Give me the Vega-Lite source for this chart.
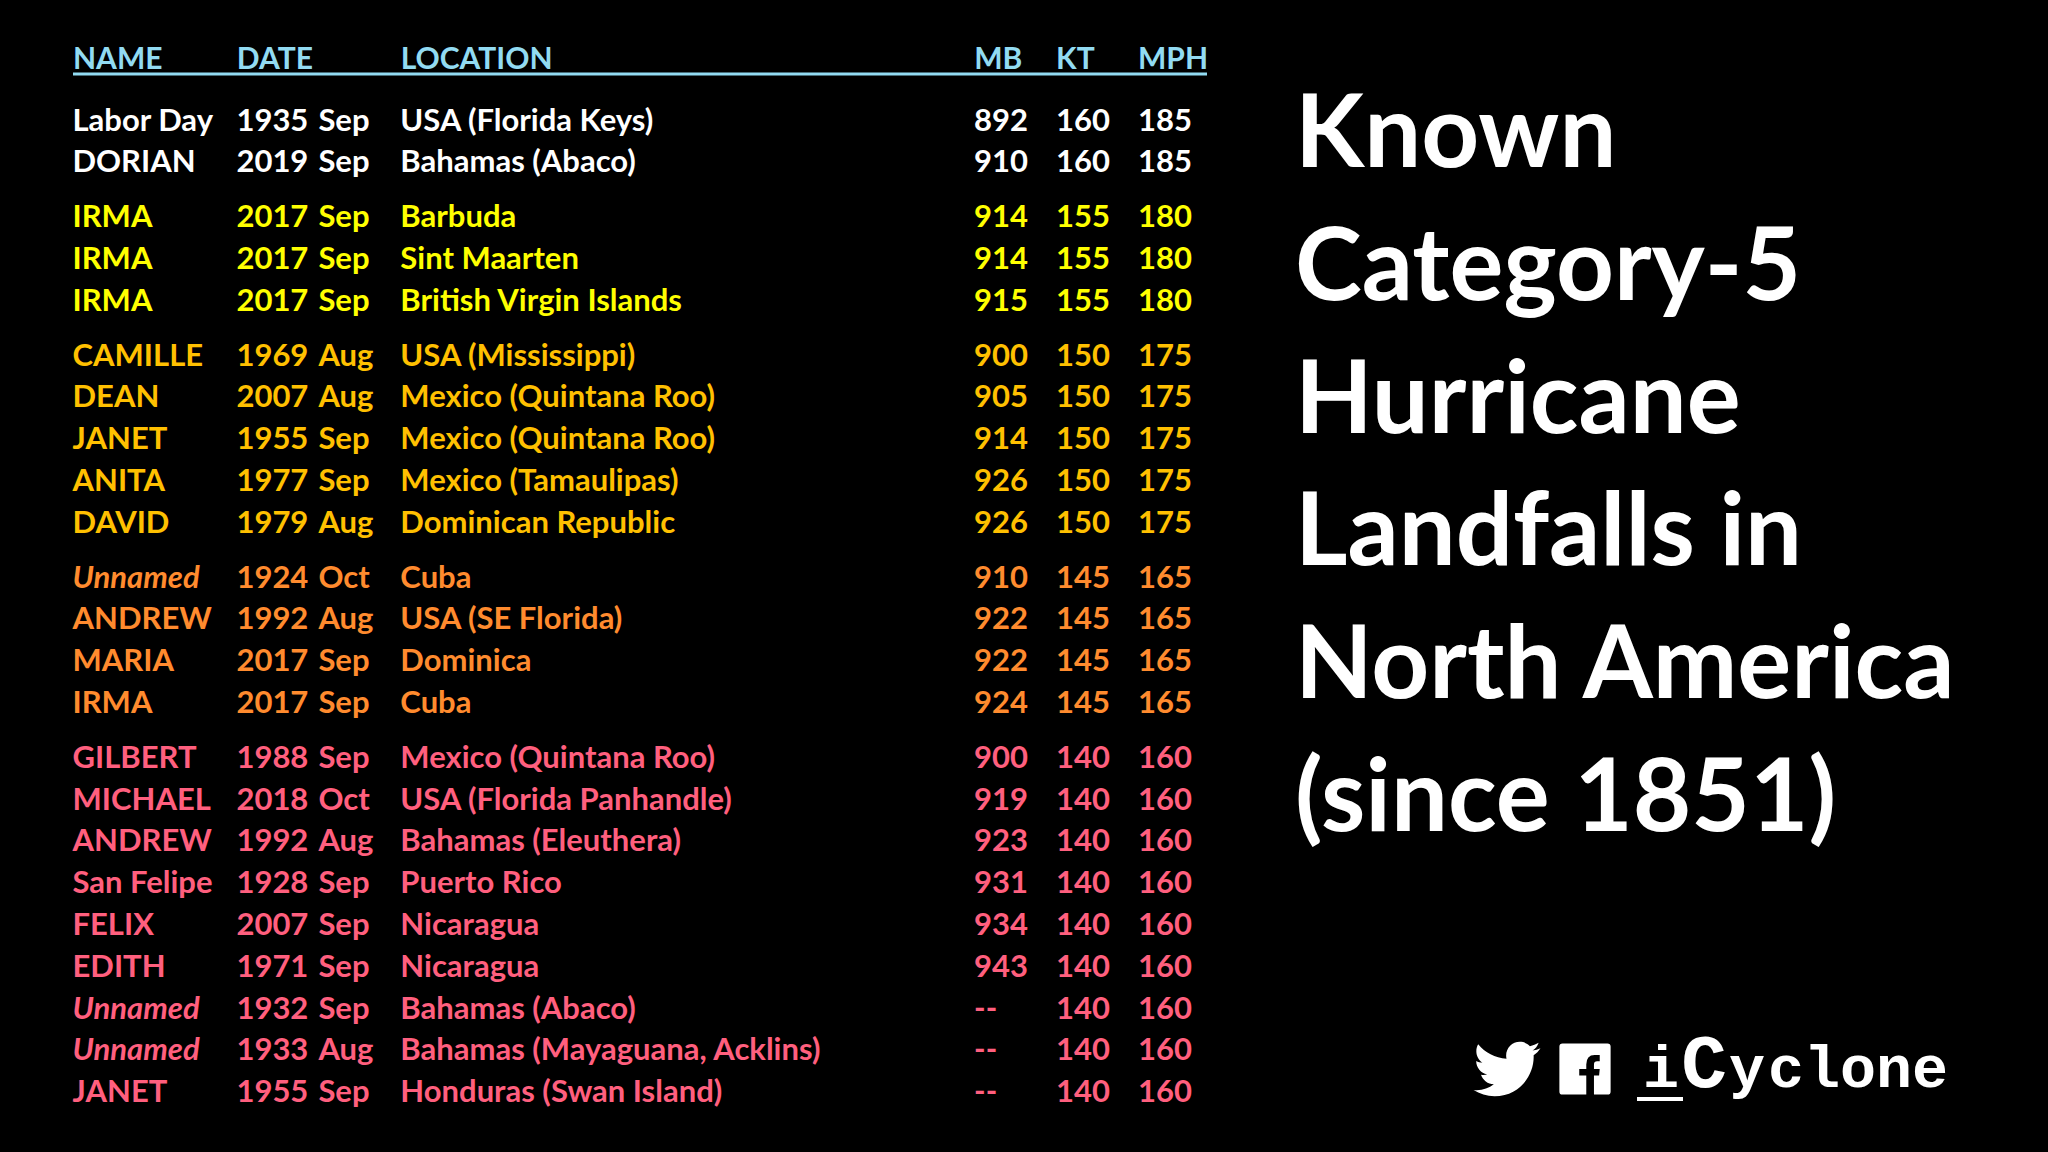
{
  "$schema": "https://vega.github.io/schema/vega-lite/v6.json",
  "width": 2048,
  "height": 1152,
  "autosize": {"type": "fit", "contains": "padding"},
  "padding": 0,
  "background": "#000000",
  "config": {"view": {"stroke": null}, "text": {"font": "Lato", "fontWeight": "bold"}},
  "datasets": {
    "storms": [
      {"row": 1, "name": "Labor Day", "year": 1935, "month": "Sep", "location": "USA (Florida Keys)", "mb": 892, "kt": 160, "mph": 185},
      {"row": 2, "name": "DORIAN", "year": 2019, "month": "Sep", "location": "Bahamas (Abaco)", "mb": 910, "kt": 160, "mph": 185},
      {"row": 3, "name": "IRMA", "year": 2017, "month": "Sep", "location": "Barbuda", "mb": 914, "kt": 155, "mph": 180},
      {"row": 4, "name": "IRMA", "year": 2017, "month": "Sep", "location": "Sint Maarten", "mb": 914, "kt": 155, "mph": 180},
      {"row": 5, "name": "IRMA", "year": 2017, "month": "Sep", "location": "British Virgin Islands", "mb": 915, "kt": 155, "mph": 180},
      {"row": 6, "name": "CAMILLE", "year": 1969, "month": "Aug", "location": "USA (Mississippi)", "mb": 900, "kt": 150, "mph": 175},
      {"row": 7, "name": "DEAN", "year": 2007, "month": "Aug", "location": "Mexico (Quintana Roo)", "mb": 905, "kt": 150, "mph": 175},
      {"row": 8, "name": "JANET", "year": 1955, "month": "Sep", "location": "Mexico (Quintana Roo)", "mb": 914, "kt": 150, "mph": 175},
      {"row": 9, "name": "ANITA", "year": 1977, "month": "Sep", "location": "Mexico (Tamaulipas)", "mb": 926, "kt": 150, "mph": 175},
      {"row": 10, "name": "DAVID", "year": 1979, "month": "Aug", "location": "Dominican Republic", "mb": 926, "kt": 150, "mph": 175},
      {"row": 11, "name": "Unnamed", "year": 1924, "month": "Oct", "location": "Cuba", "mb": 910, "kt": 145, "mph": 165},
      {"row": 12, "name": "ANDREW", "year": 1992, "month": "Aug", "location": "USA (SE Florida)", "mb": 922, "kt": 145, "mph": 165},
      {"row": 13, "name": "MARIA", "year": 2017, "month": "Sep", "location": "Dominica", "mb": 922, "kt": 145, "mph": 165},
      {"row": 14, "name": "IRMA", "year": 2017, "month": "Sep", "location": "Cuba", "mb": 924, "kt": 145, "mph": 165},
      {"row": 15, "name": "GILBERT", "year": 1988, "month": "Sep", "location": "Mexico (Quintana Roo)", "mb": 900, "kt": 140, "mph": 160},
      {"row": 16, "name": "MICHAEL", "year": 2018, "month": "Oct", "location": "USA (Florida Panhandle)", "mb": 919, "kt": 140, "mph": 160},
      {"row": 17, "name": "ANDREW", "year": 1992, "month": "Aug", "location": "Bahamas (Eleuthera)", "mb": 923, "kt": 140, "mph": 160},
      {"row": 18, "name": "San Felipe", "year": 1928, "month": "Sep", "location": "Puerto Rico", "mb": 931, "kt": 140, "mph": 160},
      {"row": 19, "name": "FELIX", "year": 2007, "month": "Sep", "location": "Nicaragua", "mb": 934, "kt": 140, "mph": 160},
      {"row": 20, "name": "EDITH", "year": 1971, "month": "Sep", "location": "Nicaragua", "mb": 943, "kt": 140, "mph": 160},
      {"row": 21, "name": "Unnamed", "year": 1932, "month": "Sep", "location": "Bahamas (Abaco)", "mb": "--", "kt": 140, "mph": 160},
      {"row": 22, "name": "Unnamed", "year": 1933, "month": "Aug", "location": "Bahamas (Mayaguana, Acklins)", "mb": "--", "kt": 140, "mph": 160},
      {"row": 23, "name": "JANET", "year": 1955, "month": "Sep", "location": "Honduras (Swan Island)", "mb": "--", "kt": 140, "mph": 160}
    ]
  },
  "layer": [
    {
      "data": {"values": [
        {"column": "name", "label": "NAME"},
        {"column": "year", "label": "DATE"},
        {"column": "location", "label": "LOCATION"},
        {"column": "mb", "label": "MB"},
        {"column": "kt", "label": "KT"},
        {"column": "mph", "label": "MPH"}
      ]},
      "mark": {"type": "text", "align": "left", "baseline": "middle", "fontSize": 30, "fill": "#92DBF2"},
      "encoding": {
        "x": {"field": "column", "type": "nominal", "axis": null, "scale": {"type": "point", "padding": 0, "range": [73, 1138], "domain": ["name", "c1", "year", "month", "location", "c5", "c6", "c7", "c8", "c9", "c10", "mb", "kt", "mph"]}},
        "y": {"value": 59.5},
        "text": {"field": "label"}
      }
    },
    {
      "data": {"values": [{"end": "start"}, {"end": "stop"}]},
      "mark": {"type": "line", "stroke": "#92DBF2", "strokeWidth": 3},
      "encoding": {
        "x": {"field": "end", "type": "nominal", "axis": null, "scale": {"type": "point", "padding": 0, "range": [73, 1207], "domain": ["start", "stop"]}},
        "y": {"value": 74}
      }
    },
    {
      "data": {"name": "storms"},
      "transform": [
        {"fold": ["name", "year", "month", "location", "mb", "kt", "mph"], "as": ["column", "value"]},
        {"filter": "datum.value !== 'Unnamed'"}
      ],
      "mark": {"type": "text", "align": "left", "baseline": "middle", "fontSize": 31},
      "encoding": {
        "x": {"field": "column", "type": "nominal", "axis": null, "scale": {"type": "point", "padding": 0, "range": [72.5, 1138], "domain": ["name", "c1", "year", "month", "location", "c5", "c6", "c7", "c8", "c9", "c10", "mb", "kt", "mph"]}},
        "y": {"field": "row", "type": "ordinal", "axis": null, "scale": {"type": "point", "padding": 0, "range": [121.5, 1041], "domain": [1,2,3,4,5,6,7,8,9,10,11,12,13,14,15,16,17,18,19,20,21,22,23]}},
        "yOffset": {"field": "kt", "type": "quantitative", "scale": {"domain": [160, 140], "range": [0, 52.2]}},
        "color": {"field": "kt", "type": "ordinal", "legend": null, "scale": {"domain": [160, 155, 150, 145, 140], "range": ["#FFFFFF", "#FFFF00", "#FFC000", "#FF8B2E", "#FF5F7E"]}},
        "text": {"field": "value"}
      }
    },
    {
      "data": {"name": "storms"},
      "transform": [
        {"fold": ["name"], "as": ["column", "value"]},
        {"filter": "datum.value === 'Unnamed'"}
      ],
      "mark": {"type": "text", "align": "left", "baseline": "middle", "fontSize": 31, "fontStyle": "italic"},
      "encoding": {
        "x": {"field": "column", "type": "nominal", "axis": null, "scale": {"type": "point", "padding": 0, "range": [72.5, 1138], "domain": ["name", "c1", "year", "month", "location", "c5", "c6", "c7", "c8", "c9", "c10", "mb", "kt", "mph"]}},
        "y": {"field": "row", "type": "ordinal", "axis": null, "scale": {"type": "point", "padding": 0, "range": [121.5, 1041], "domain": [1,2,3,4,5,6,7,8,9,10,11,12,13,14,15,16,17,18,19,20,21,22,23]}},
        "yOffset": {"field": "kt", "type": "quantitative", "scale": {"domain": [160, 140], "range": [0, 52.2]}},
        "color": {"field": "kt", "type": "ordinal", "legend": null, "scale": {"domain": [160, 155, 150, 145, 140], "range": ["#FFFFFF", "#FFFF00", "#FFC000", "#FF8B2E", "#FF5F7E"]}},
        "text": {"field": "name"}
      }
    },
    {
      "data": {"values": [
        {"line": "Known"},
        {"line": "Category-5"},
        {"line": "Hurricane"},
        {"line": "Landfalls in"},
        {"line": "North America"},
        {"line": "(since 1851)"}
      ]},
      "mark": {"type": "text", "align": "left", "baseline": "middle", "fontSize": 101, "fill": "#FFFFFF"},
      "encoding": {
        "x": {"value": 1295},
        "y": {"field": "line", "type": "nominal", "sort": null, "axis": null, "scale": {"type": "point", "padding": 0, "range": [137, 801]}},
        "text": {"field": "line"}
      }
    },
    {
      "data": {"values": [{"icon": "twitter"}, {"icon": "facebook"}]},
      "mark": {"type": "point", "filled": true, "fill": "#FFFFFF", "opacity": 1, "size": 41},
      "encoding": {
        "x": {"field": "icon", "type": "nominal", "axis": null, "scale": {"type": "point", "padding": 0, "range": [1507, 1585], "domain": ["twitter", "facebook"]}},
        "y": {"value": 1069},
        "shape": {"field": "icon", "type": "nominal", "legend": null, "scale": {"domain": ["twitter", "facebook"], "range": [
          "M10.46,-6.5C9.69,-6.15 8.86,-5.92 8,-5.81C8.88,-6.34 9.56,-7.18 9.88,-8.19C9.05,-7.69 8.13,-7.34 7.16,-7.14C6.37,-8 5.26,-8.5 4,-8.5C1.65,-8.5 -0.27,-6.58 -0.27,-4.21C-0.27,-3.87 -0.23,-3.54 -0.16,-3.23C-3.72,-3.41 -6.89,-5.12 -9,-7.71C-9.37,-7.08 -9.58,-6.34 -9.58,-5.56C-9.58,-4.07 -8.83,-2.75 -7.67,-2C-8.38,-2 -9.04,-2.2 -9.62,-2.5L-9.62,-2.47C-9.62,-0.39 -8.14,1.35 -6.18,1.74C-6.54,1.84 -6.92,1.89 -7.31,1.89C-7.58,1.89 -7.85,1.86 -8.11,1.81C-7.57,3.5 -6,4.76 -4.11,4.79C-5.57,5.95 -7.42,6.63 -9.44,6.63C-9.78,6.63 -10.12,6.61 -10.46,6.57C-8.56,7.79 -6.3,8.5 -3.88,8.5C4,8.5 8.33,1.96 8.33,-3.71C8.33,-3.9 8.33,-4.08 8.32,-4.27C9.16,-4.87 9.88,-5.63 10.46,-6.5Z",
          "M-7,-8L7,-8Q8,-8 8,-7L8,7Q8,8 7,8L2.8,8L2.8,2L4.4,2L4.6,0L2.8,0L2.8,-1.4Q2.8,-2.4 3.8,-2.4L4.6,-2.4L4.6,-4.4L3,-4.4Q0.4,-4.4 0.4,-1.4L0.4,0L-1.8,0L-1.8,2L0.4,2L0.4,8L-7,8Q-8,8 -8,7L-8,-7Q-8,-8 -7,-8Z"
        ]}}
      }
    },
    {
      "data": {"values": [{"letter": "i"}, {"letter": "C"}, {"letter": "y"}]},
      "mark": {"type": "text", "align": "center", "baseline": "alphabetic", "font": "Liberation Mono", "fill": "#FFFFFF"},
      "encoding": {
        "x": {"field": "letter", "type": "nominal", "sort": null, "axis": null, "scale": {"type": "point", "padding": 0, "range": [1661, 1747], "domain": ["i", "C", "y"]}},
        "y": {"value": 1087},
        "size": {"condition": {"test": "datum.letter === 'C'", "value": 76}, "value": 60},
        "text": {"field": "letter"}
      }
    },
    {
      "data": {"values": [{"word": "clone"}]},
      "mark": {"type": "text", "align": "left", "baseline": "alphabetic", "font": "Liberation Mono", "fontSize": 60, "fill": "#FFFFFF"},
      "encoding": {
        "x": {"value": 1768},
        "y": {"value": 1087},
        "text": {"field": "word"}
      }
    },
    {
      "data": {"values": [{"end": "start"}, {"end": "stop"}]},
      "mark": {"type": "line", "stroke": "#FFFFFF", "strokeWidth": 4},
      "encoding": {
        "x": {"field": "end", "type": "nominal", "axis": null, "scale": {"type": "point", "padding": 0, "range": [1637, 1683], "domain": ["start", "stop"]}},
        "y": {"value": 1099}
      }
    }
  ],
  "resolve": {"scale": {"x": "independent", "y": "independent", "color": "independent", "shape": "independent", "yOffset": "independent"}}
}
